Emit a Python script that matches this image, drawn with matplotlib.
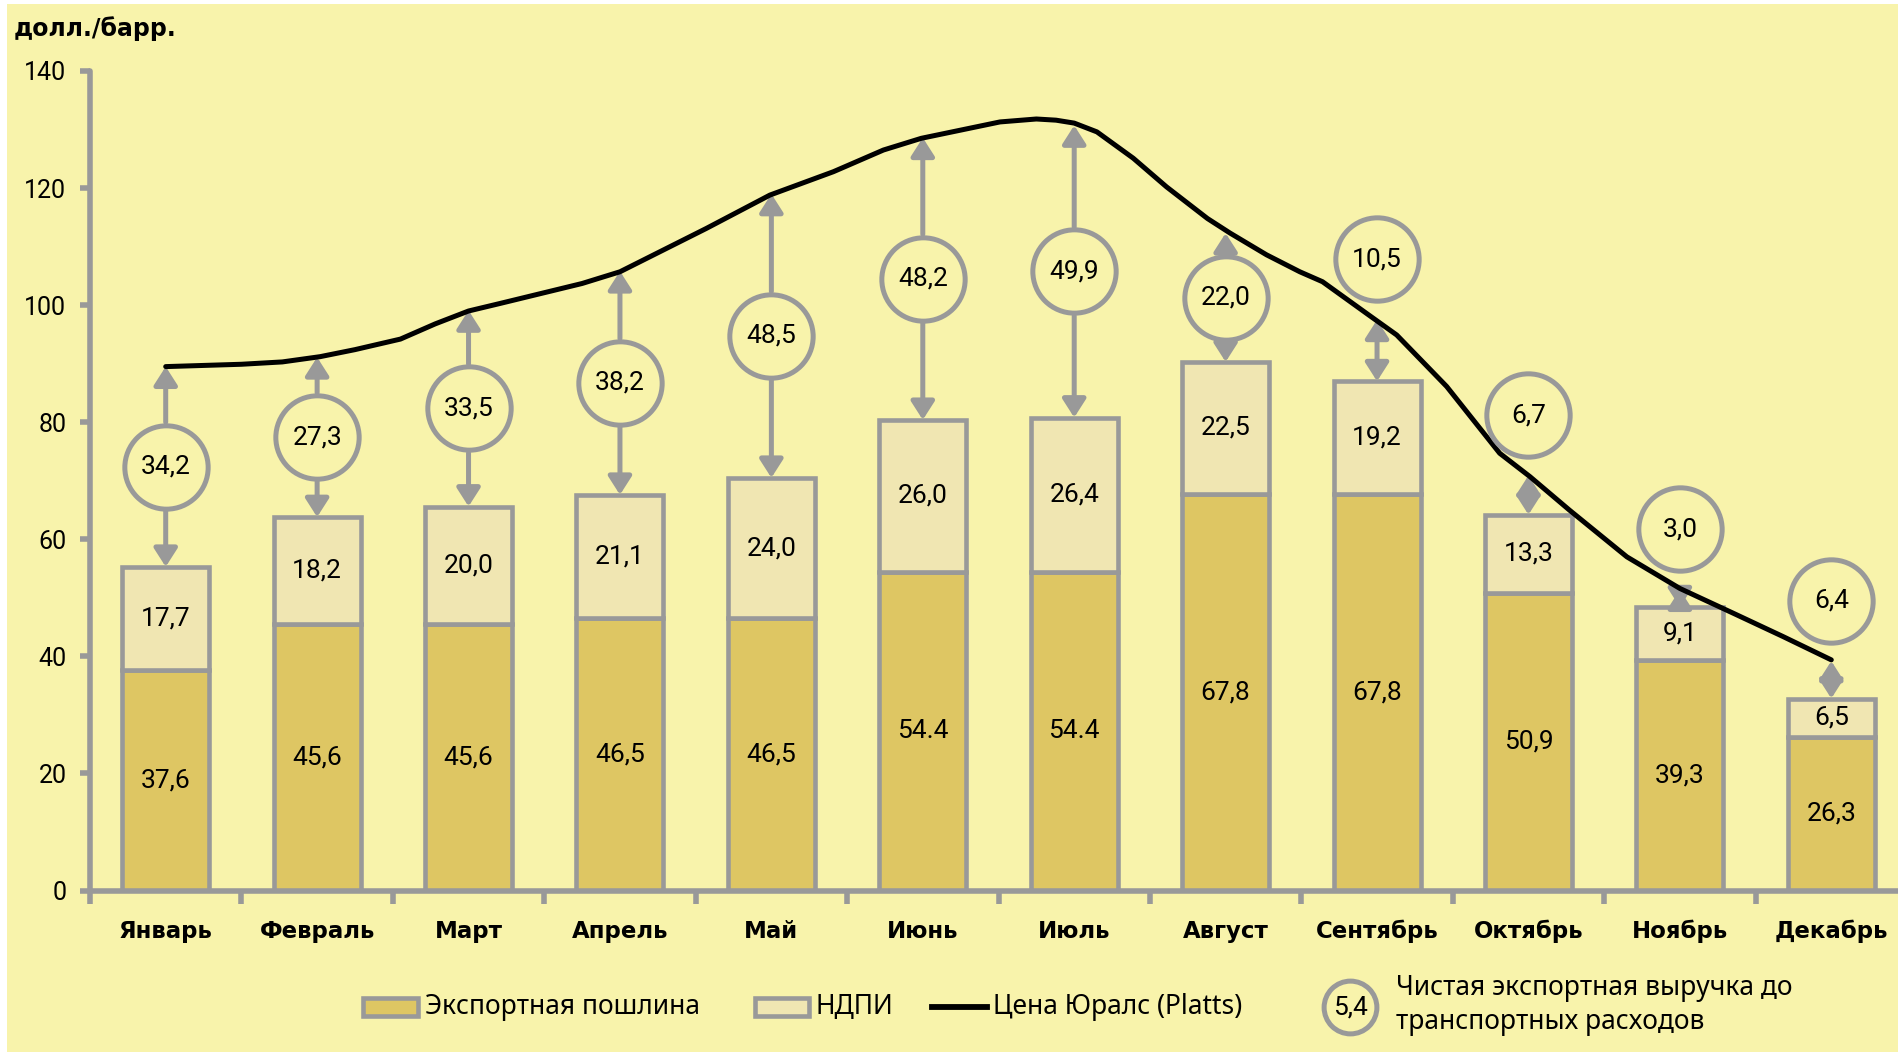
import matplotlib.pyplot as plt
from matplotlib.patches import Rectangle
from matplotlib.lines import Line2D

months = ["Январь", "Февраль", "Март", "Апрель", "Май", "Июнь",
          "Июль", "Август", "Сентябрь", "Октябрь", "Ноябрь", "Декабрь"]
export_duty = [37.6, 45.6, 45.6, 46.5, 46.5, 54.4, 54.4, 67.8, 67.8, 50.9, 39.3, 26.3]
export_labels = ["37,6", "45,6", "45,6", "46,5", "46,5", "54.4", "54.4",
                 "67,8", "67,8", "50,9", "39,3", "26,3"]
ndpi = [17.7, 18.2, 20.0, 21.1, 24.0, 26.0, 26.4, 22.5, 19.2, 13.3, 9.1, 6.5]
net_revenue = [34.2, 27.3, 33.5, 38.2, 48.5, 48.2, 49.9, 22.0, 10.5, 6.7, 3.0, 6.4]

# Urals (Platts) price curve, position in months from January
urals_x = [0.00, 0.50, 0.77, 1.02, 1.25, 1.55, 1.78, 2.00, 2.21, 2.75, 3.00, 3.57,
           3.99, 4.41, 4.74, 4.99, 5.51, 5.75, 5.88, 6.00, 6.15, 6.39, 6.61, 6.88,
           7.03, 7.27, 7.49, 7.64, 7.93, 8.13, 8.46, 8.81, 9.01, 9.27, 9.65, 10.00,
           10.35, 10.68, 11.00]
urals_y = [89.5, 89.9, 90.3, 91.2, 92.4, 94.2, 96.8, 99.0, 100.3, 103.7, 105.7, 113.1,
           118.8, 122.8, 126.5, 128.5, 131.3, 131.8, 131.6, 131.1, 129.6, 125.1, 120.2, 114.8,
           112.3, 108.6, 105.7, 104.0, 98.6, 94.9, 86.1, 74.7, 70.7, 65.0, 57.0, 51.6,
           47.4, 43.4, 39.4]

BG = "#F8F3AB"
GOLD = "#DEC663"
PALE = "#F0E6B2"
GRAY = "#999999"

W, H = 1898, 1052
fig = plt.figure(figsize=(W / 100, H / 100), dpi=100, facecolor="white")
fig.add_artist(Rectangle((7 / W, 0), 1, 1 - 4 / H, transform=fig.transFigure,
                         facecolor=BG, edgecolor="none", zorder=-10))

ax = fig.add_axes([90 / W, 1 - 890.5 / H, (1907 - 90) / W, (890.5 - 71) / H])
ax.set_facecolor("none")

x = list(range(len(months)))
bw = 0.575
ax.bar(x, export_duty, width=bw, color=GOLD, edgecolor=GRAY, linewidth=3.3, zorder=2)
ax.bar(x, ndpi, bottom=export_duty, width=bw, color=PALE, edgecolor=GRAY,
       linewidth=3.3, zorder=2)

num_font = dict(family="Roboto", fontsize=19, color="black")
for i in x:
    ax.text(i, export_duty[i] / 2, export_labels[i], ha="center", va="center",
            zorder=5, **num_font)
    ax.text(i, export_duty[i] + ndpi[i] / 2, f"{ndpi[i]:.1f}".replace(".", ","),
            ha="center", va="center", zorder=5, **num_font)

ax.plot(urals_x, urals_y, color="black", linewidth=3.6, zorder=4,
        solid_capstyle="round", solid_joinstyle="round")

# net revenue: circle between bar top and price, arrows to both
r = 7.6
arrow_kw = dict(color=GRAY, lw=3.6, mutation_scale=22, shrinkA=0, shrinkB=0)
head = "head_length=0.5,head_width=0.32"
for i in x:
    top = export_duty[i] + ndpi[i]
    price = top + net_revenue[i]
    if net_revenue[i] >= 15:
        cy = (top + price) / 2
        ax.annotate("", xy=(i, price), xytext=(i, cy + r),
                    arrowprops=dict(arrowstyle="-|>," + head, **arrow_kw), zorder=3)
        ax.annotate("", xy=(i, top), xytext=(i, cy - r),
                    arrowprops=dict(arrowstyle="-|>," + head, **arrow_kw), zorder=3)
    else:
        cy = price + 10.3
        ax.annotate("", xy=(i, price), xytext=(i, top),
                    arrowprops=dict(arrowstyle="<|-|>," + head, **arrow_kw), zorder=3)
    ax.plot(i, cy, marker="o", markersize=60, markerfacecolor=BG,
            markeredgecolor=GRAY, markeredgewidth=3.6, zorder=5)
    ax.text(i, cy, f"{net_revenue[i]:.1f}".replace(".", ","), ha="center",
            va="center", zorder=6, **num_font)

ax.set_xlim(-0.5, 11.5)
ax.set_ylim(0, 140)
ax.set_yticks(range(0, 141, 20))
ax.set_xticks(x)
ax.set_xticklabels(months, fontfamily="DejaVu Sans", fontweight="bold", fontsize=16.5)
ax.set_xticks([i - 0.5 for i in range(13)], minor=True)
ax.tick_params(axis="x", which="major", length=0, pad=21)
ax.tick_params(axis="x", which="minor", length=9, width=4, color=GRAY)
ax.tick_params(axis="y", length=7, width=4, color=GRAY, pad=10, labelsize=18)
for lbl in ax.get_yticklabels():
    lbl.set_fontfamily("Roboto")
for side in ("top", "right"):
    ax.spines[side].set_visible(False)
for side in ("left", "bottom"):
    ax.spines[side].set_color(GRAY)
    ax.spines[side].set_linewidth(4)
    ax.spines[side].set_capstyle("round")

fig.text(14 / W, 1 - 29 / H, "долл./барр.", fontfamily="DejaVu Sans",
         fontweight="bold", fontsize=17, va="center", ha="left")

# legend drawn in figure pixels
def fx(px):
    return px / W


def fy(py):
    return 1 - py / H


leg_y = 1007
leg_font = dict(family="Noto Sans", fontsize=19, va="center", ha="left")
for x0, x1, fc, label in [(363, 418, GOLD, "Экспортная пошлина"),
                          (755, 809, PALE, "НДПИ")]:
    fig.add_artist(Rectangle((fx(x0), fy(leg_y + 9)), fx(x1 - x0), 18 / H,
                             transform=fig.transFigure, facecolor=fc,
                             edgecolor=GRAY, linewidth=3.3))
    fig.text(fx(x1 + 7), fy(leg_y), label, **leg_font)
fig.add_artist(Line2D([fx(932), fx(987)], [fy(leg_y), fy(leg_y)],
                      transform=fig.transFigure, color="black", linewidth=4.2))
fig.text(fx(993), fy(leg_y), "Цена Юралс (Platts)", **leg_font)
fig.add_artist(Line2D([fx(1350)], [fy(leg_y)], transform=fig.transFigure,
                      marker="o", markersize=38, markerfacecolor=BG,
                      markeredgecolor=GRAY, markeredgewidth=3.6))
fig.text(fx(1350), fy(leg_y), "5,4", family="Roboto", fontsize=19,
         va="center", ha="center")
fig.text(fx(1396), fy(988), "Чистая экспортная выручка до", **leg_font)
fig.text(fx(1396), fy(1022), "транспортных расходов", **leg_font)

fig.savefig("out.png", dpi=100, facecolor="white")
